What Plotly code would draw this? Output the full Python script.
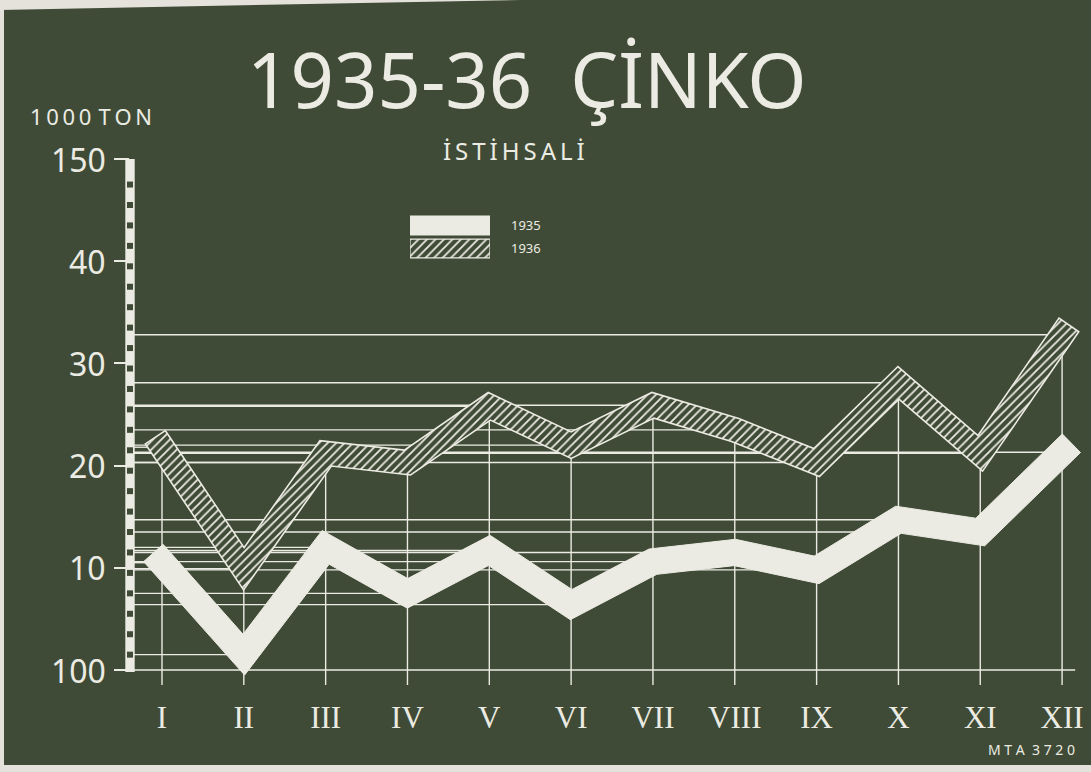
import math
import plotly.graph_objects as go

# ---------------- data ----------------
months = ["I", "II", "III", "IV", "V", "VI", "VII", "VIII", "IX", "X", "XI", "XII"]
month_pos = list(range(1, 13))
prod_1935 = [110.5, 101.5, 112.0, 107.5, 111.7, 106.4, 110.6, 111.5, 109.8, 114.7, 113.5, 121.3]
prod_1936 = [121.8, 109.9, 121.2, 120.3, 125.8, 122.0, 125.9, 123.5, 120.3, 128.1, 121.2, 132.8]
y_tick_vals = [100, 110, 120, 130, 140, 150]
y_tick_text = ["100", "10", "20", "30", "40", "150"]
ruler_marks = [101.5 + 2 * i for i in range(24)]
series_names = ["1935", "1936"]

# ---------------- layout geometry ----------------
W, H = 1091, 772
ML, MR, MT, MB = 130, 6, 140, 84
PW, PH = W - ML - MR, H - MT - MB
X_RANGE = [0.609, 12.28]
Y_RANGE = [98.239, 151.859]
SX = PW / (X_RANGE[1] - X_RANGE[0])
SY = PH / (Y_RANGE[1] - Y_RANGE[0])

BG = "#3f4b36"
INK = "#ecebe3"
SHEET = "#e4e2da"
TS = "\u2009"  # thin space used as letter spacing


def spaced(s):
    return TS.join(list(s))


def px2paper_x(px):
    return (px - ML) / PW


def px2paper_y(py):
    return (H - MB - py) / PH


def band(xs, ys, half):
    """Thick-stroke outline (miter joins, square caps) in data coordinates."""
    P = [((x - X_RANGE[0]) * SX, (y - Y_RANGE[0]) * SY) for x, y in zip(xs, ys)]
    n = len(P)
    dirs = []
    for i in range(n - 1):
        dx, dy = P[i + 1][0] - P[i][0], P[i + 1][1] - P[i][1]
        L = math.hypot(dx, dy)
        dirs.append((dx / L, dy / L))
    up, lo = [], []
    for i in range(n):
        if i == 0 or i == n - 1:
            d = dirs[0] if i == 0 else dirs[-1]
            s = -1 if i == 0 else 1
            nx, ny = -d[1], d[0]
            bx, by = P[i][0] + s * d[0] * half, P[i][1] + s * d[1] * half
            up.append((bx + nx * half, by + ny * half))
            lo.append((bx - nx * half, by - ny * half))
        else:
            d1, d2 = dirs[i - 1], dirs[i]
            n1 = (-d1[1], d1[0])
            n2 = (-d2[1], d2[0])
            mx, my = n1[0] + n2[0], n1[1] + n2[1]
            ml = math.hypot(mx, my)
            mx, my = mx / ml, my / ml
            k = half / (mx * n1[0] + my * n1[1])
            up.append((P[i][0] + mx * k, P[i][1] + my * k))
            lo.append((P[i][0] - mx * k, P[i][1] - my * k))
    ring = up + lo[::-1] + [up[0]]
    bx = [X_RANGE[0] + p[0] / SX for p in ring]
    by = [Y_RANGE[0] + p[1] / SY for p in ring]
    return bx, by


fig = go.Figure()

# guide lines: horizontal from the axis to each value, vertical up to the upper value
gx, gy = [], []
axis_x = X_RANGE[0]
for series in (prod_1935, prod_1936):
    for m, v in zip(month_pos, series):
        gx += [axis_x, m, None]
        gy += [v, v, None]
for m, v in zip(month_pos, prod_1936):
    gx += [m, m, None]
    gy += [98.53, v, None]
gx += [axis_x, 12.16, None]
gy += [100, 100, None]
fig.add_trace(go.Scatter(x=gx, y=gy, mode="lines", line=dict(color=INK, width=1.4),
                         hoverinfo="skip", showlegend=False))

# 1936 hatched band
bx6, by6 = band(month_pos, prod_1936, 12)
fig.add_trace(go.Scatter(x=bx6, y=by6, mode="lines", fill="toself",
                         fillcolor=BG,
                         fillpattern=dict(shape="/", fgcolor=INK, bgcolor=BG,
                                          size=6, solidity=0.3, fillmode="replace"),
                         line=dict(color=INK, width=1.6), name=series_names[1],
                         showlegend=False))

# 1935 solid white band
bx5, by5 = band(month_pos, prod_1935, 13)
fig.add_trace(go.Scatter(x=bx5, y=by5, mode="lines", fill="toself", fillcolor=INK,
                         line=dict(color=INK, width=1), name=series_names[0],
                         showlegend=False))

# ruler marks on the y axis bar
fig.add_trace(go.Scatter(x=[axis_x] * len(ruler_marks), y=ruler_marks, mode="markers",
                         marker=dict(symbol="square", size=6, color=BG, line=dict(width=0)),
                         hoverinfo="skip", showlegend=False, cliponaxis=False))

# legend swatches drawn as a tiny bar chart
fig.add_trace(go.Bar(x=[1], y=[series_names[0]], orientation="h",
                     xaxis="x2", yaxis="y2",
                     marker=dict(color=INK, line=dict(color=INK, width=1.2)),
                     showlegend=False, hoverinfo="skip"))
fig.add_trace(go.Bar(x=[1], y=[series_names[1]], orientation="h",
                     xaxis="x2", yaxis="y2",
                     marker=dict(color=BG, line=dict(color=INK, width=1.2),
                                 pattern=dict(shape="/", fgcolor=INK, bgcolor=BG,
                                              size=6, solidity=0.3, fillmode="replace")),
                     showlegend=False, hoverinfo="skip"))

shapes = [
    # ruler bar (paper-referenced so it is not clipped at the plot edge)
    dict(type="rect", xref="paper", yref="y", xsizemode="pixel", xanchor=0,
         x0=-4.7, x1=4.7, y0=99.8, y1=150, fillcolor=INK, line=dict(width=0), layer="below"),
    # paper borders of the photographed sheet
    dict(type="rect", xref="paper", yref="paper", x0=px2paper_x(0), x1=px2paper_x(W),
         y0=px2paper_y(H), y1=px2paper_y(765), fillcolor=SHEET, line=dict(width=0)),
    dict(type="rect", xref="paper", yref="paper", x0=px2paper_x(0), x1=px2paper_x(4),
         y0=px2paper_y(H), y1=px2paper_y(0), fillcolor=SHEET, line=dict(width=0)),
    dict(type="path", xref="paper", yref="paper",
         path=f"M {px2paper_x(0)},{px2paper_y(0)} L {px2paper_x(520)},{px2paper_y(0)} "
              f"L {px2paper_x(0)},{px2paper_y(10)} Z",
         fillcolor=SHEET, line=dict(width=0)),
]

annotations = []
for v, t in zip(y_tick_vals, y_tick_text):
    annotations.append(dict(x=px2paper_x(108), xref="paper", y=v, yref="y", text=t,
                            showarrow=False, xanchor="right", yanchor="middle",
                            font=dict(family="Noto Sans", size=32, color=INK)))
annotations += [
    dict(x=px2paper_x(527), xref="paper", y=px2paper_y(79), yref="paper",
         text="1935-36" + TS * 3 + "ÇİNKO", showarrow=False, xanchor="center",
         yanchor="middle",
         font=dict(family="Noto Sans", size=76, color=INK)),
    dict(x=px2paper_x(514), xref="paper", y=px2paper_y(150), yref="paper",
         text=spaced("İSTİHSALİ"), showarrow=False, xanchor="center", yanchor="middle",
         font=dict(family="Noto Sans", size=24, color=INK)),
    dict(x=px2paper_x(28), xref="paper", y=px2paper_y(116), yref="paper",
         text=spaced("1000") + TS * 2 + spaced("TON"), showarrow=False, xanchor="left",
         yanchor="middle",
         font=dict(family="Noto Sans", size=22, color=INK)),
    dict(x=px2paper_x(1077), xref="paper", y=px2paper_y(749), yref="paper",
         text="M T A  3 7 2 0", showarrow=False, xanchor="right", yanchor="middle",
         font=dict(family="Noto Sans", size=14, color=INK)),
]

fig.update_layout(
    width=W, height=H,
    margin=dict(l=ML, r=MR, t=MT, b=MB),
    paper_bgcolor=BG, plot_bgcolor=BG,
    showlegend=False,
    barmode="overlay",
    xaxis=dict(range=X_RANGE, tickvals=month_pos, ticktext=months, showgrid=False,
               zeroline=False, showline=False, ticks="", ticklabelstandoff=8,
               tickfont=dict(family="Liberation Serif", size=31, color=INK)),
    yaxis=dict(range=Y_RANGE, tickvals=y_tick_vals, showticklabels=False, showgrid=False,
               zeroline=False, showline=False, ticks="outside", ticklen=15,
               tickwidth=1.5, tickcolor=INK),
    xaxis2=dict(domain=[px2paper_x(410), px2paper_x(490)], range=[0, 1], anchor="y2",
                visible=False),
    yaxis2=dict(domain=[px2paper_y(260), px2paper_y(214)], anchor="x2", side="right",
                showgrid=False, zeroline=False, showline=False, ticks="",
                ticklabelstandoff=20, categoryorder="array",
                categoryarray=[series_names[1], series_names[0]],
                tickfont=dict(family="Noto Sans", size=13, color=INK)),
    bargap=0.18,
    shapes=shapes,
    annotations=annotations,
)

fig.write_html("out.html", config={"displayModeBar": False},
               post_script="document.body.style.margin='0';")
